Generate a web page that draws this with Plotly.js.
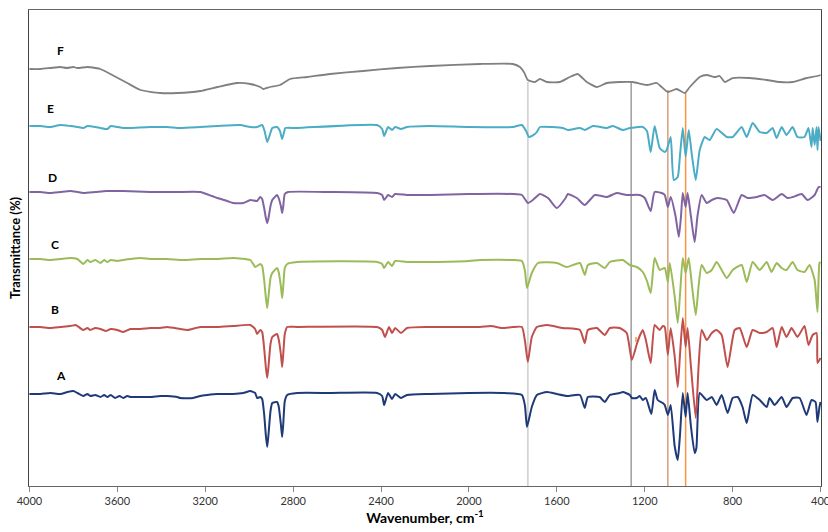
<!DOCTYPE html>
<html><head><meta charset="utf-8">
<script src="https://cdn.plot.ly/plotly-3.0.1.min.js"></script>
<style>html,body{margin:0;padding:0;background:#fff}#chart{width:828px;height:532px}</style>
</head><body><div id="chart"></div>
<script>
// FTIR spectra, offset transmittance (arbitrary stacked units), [wavenumber, value]
const specA = [[4000,92],[3950,92],[3905,93],[3859,92],[3827,94],[3800,95],[3782,93],[3755,90],[3736,92],[3723,90],[3700,91],[3677,89],[3660,91],[3645,89],[3630,91],[3610,88],[3590,90],[3573,88],[3555,90],[3541,89],[3495,89],[3450,89],[3405,90],[3373,90],[3327,89],[3314,88],[3255,88],[3223,90],[3191,91],[3145,92],[3073,92],[3027,93],[2995,95],[2973,93],[2964,88],[2950,89],[2941,87],[2932,72],[2924,50],[2918,39],[2912,52],[2903,75],[2895,83],[2873,84],[2866,80],[2856,62],[2850,49],[2845,62],[2838,85],[2827,91],[2782,93],[2632,93],[2418,93],[2395,90],[2386,81],[2368,93],[2350,87],[2336,92],[2309,88],[2282,91],[2177,92],[2000,93],[1850,93],[1759,91],[1745,80],[1736,59],[1714,79],[1691,91],[1645,94],[1600,92],[1555,90],[1495,91],[1473,78],[1459,89],[1405,89],[1382,84],[1359,91],[1314,93],[1300,94],[1268,91],[1259,88],[1236,88],[1223,90],[1209,86],[1195,88],[1170,72],[1155,96],[1141,86],[1118,83],[1109,81],[1095,71],[1082,81],[1064,40],[1050,26],[1040,50],[1027,93],[1014,69],[1005,93],[990,60],[973,33],[965,38],[950,93],[918,86],[895,89],[873,81],[850,91],[823,73],[800,88],[777,89],[755,79],[736,63],[709,91],[677,86],[645,79],[632,88],[609,81],[577,89],[555,79],[527,88],[495,88],[464,71],[441,86],[423,84],[414,64],[405,79],[400,84]];
const specB = [[4000,159],[3950,159],[3905,158],[3859,159],[3814,160],[3790,161],[3782,160],[3755,156],[3736,158],[3723,156],[3700,158],[3677,157],[3650,155],[3630,157],[3600,156],[3573,154],[3541,157],[3495,157],[3450,158],[3405,158],[3373,159],[3314,157],[3282,156],[3223,159],[3145,159],[3073,160],[2995,161],[2973,157],[2964,152],[2950,156],[2941,154],[2932,138],[2924,118],[2918,108],[2912,120],[2903,142],[2895,149],[2873,152],[2866,147],[2856,132],[2850,119],[2845,132],[2838,152],[2827,159],[2782,159],[2418,159],[2395,156],[2382,149],[2364,159],[2350,153],[2336,158],[2309,153],[2282,158],[2177,159],[1950,159],[1900,160],[1850,158],[1800,159],[1759,159],[1745,145],[1732,124],[1714,149],[1691,159],[1645,161],[1573,158],[1495,156],[1473,143],[1459,156],[1418,158],[1382,151],[1359,158],[1314,158],[1282,153],[1259,126],[1236,142],[1223,150],[1209,156],[1195,146],[1173,123],[1155,161],[1132,156],[1118,160],[1109,159],[1095,131],[1082,158],[1064,130],[1050,99],[1040,130],[1027,168],[1014,139],[1005,158],[990,120],[968,68],[955,120],[941,156],[918,146],[895,153],[873,156],[850,151],[823,119],[791,156],[768,158],[736,139],[709,156],[677,153],[645,154],[618,158],[600,139],[577,159],[555,149],[532,158],[505,149],[473,160],[455,141],[436,151],[418,153],[414,123],[405,126],[400,128]];
const specC = [[4000,227],[3950,227],[3905,226],[3859,227],[3814,228],[3782,227],[3755,222],[3736,226],[3723,224],[3700,226],[3677,223],[3660,226],[3645,224],[3630,226],[3600,225],[3573,226],[3541,227],[3495,228],[3450,227],[3373,227],[3300,226],[3223,227],[3145,227],[3073,228],[2995,226],[2982,222],[2973,219],[2950,222],[2941,220],[2932,206],[2924,188],[2918,178],[2912,190],[2903,208],[2895,213],[2873,218],[2866,214],[2856,200],[2850,188],[2845,200],[2838,218],[2827,222],[2782,224],[2418,224],[2395,222],[2386,218],[2368,224],[2350,220],[2336,225],[2282,224],[2177,224],[2000,225],[1950,226],[1800,226],[1759,225],[1745,215],[1736,198],[1714,213],[1686,223],[1600,223],[1555,219],[1495,223],[1473,211],[1459,221],[1418,223],[1382,218],[1359,224],[1300,226],[1268,221],[1236,219],[1209,214],[1190,205],[1173,193],[1155,228],[1132,216],[1109,218],[1095,204],[1086,223],[1064,190],[1050,163],[1040,190],[1027,228],[1014,213],[1000,228],[985,200],[968,171],[955,200],[941,221],[918,213],[895,216],[873,224],[827,208],[800,216],[759,221],[736,204],[709,224],[677,216],[645,224],[623,214],[600,223],[577,218],[555,216],[527,224],[505,216],[473,214],[450,221],[427,206],[414,174],[405,223],[400,224]];
const specD = [[4000,294],[3950,294],[3905,293],[3859,294],[3814,295],[3782,294],[3755,293],[3700,294],[3650,295],[3573,295],[3450,294],[3373,294],[3327,294],[3223,294],[3170,290],[3145,288],[3100,285],[3073,283],[3027,283],[2995,286],[2964,285],[2950,289],[2941,287],[2932,278],[2924,268],[2918,263],[2912,268],[2903,280],[2895,286],[2873,291],[2866,288],[2856,280],[2850,273],[2845,280],[2838,292],[2823,294],[2632,294],[2418,293],[2395,291],[2386,286],[2368,291],[2350,289],[2336,292],[2282,291],[2177,291],[2000,292],[1800,292],[1759,291],[1732,283],[1709,286],[1677,292],[1640,288],[1600,278],[1560,288],[1550,292],[1509,288],[1473,281],[1427,291],[1373,289],[1327,293],[1282,291],[1223,291],[1200,288],[1173,275],[1155,294],[1123,293],[1109,291],[1095,279],[1082,289],[1060,270],[1045,249],[1035,270],[1027,293],[1014,279],[1005,293],[990,270],[973,244],[960,270],[941,291],[918,283],[895,286],[868,288],[827,286],[795,273],[759,291],[732,288],[691,289],[655,291],[618,286],[577,292],[550,288],[527,289],[486,292],[459,286],[427,291],[409,299],[400,299]];
const specE = [[4000,360],[3950,360],[3905,359],[3859,361],[3814,360],[3782,359],[3755,358],[3736,360],[3700,359],[3677,358],[3645,357],[3630,360],[3600,359],[3573,358],[3541,358],[3450,359],[3373,359],[3314,358],[3223,359],[3145,360],[3041,361],[2995,359],[2964,359],[2941,361],[2930,355],[2918,344],[2905,352],[2895,358],[2873,359],[2860,355],[2850,347],[2840,355],[2836,358],[2782,358],[2418,361],[2395,357],[2386,350],[2368,359],[2350,356],[2336,359],[2309,357],[2282,359],[2177,360],[2000,359],[1800,359],[1759,361],[1740,355],[1727,349],[1700,352],[1691,354],[1677,359],[1620,359],[1573,358],[1550,356],[1495,358],[1473,356],[1436,360],[1373,358],[1345,360],[1300,356],[1268,358],[1209,359],[1190,355],[1173,334],[1155,360],[1132,338],[1109,334],[1100,336],[1082,349],[1068,306],[1050,309],[1040,330],[1027,358],[1014,329],[1000,356],[985,330],[968,306],[950,336],[927,349],[905,346],[873,357],[827,349],[800,349],[759,359],[736,349],[709,363],[677,354],[645,353],[618,358],[600,348],[577,359],[555,351],[527,359],[505,349],[473,349],[455,358],[441,339],[436,358],[427,341],[418,359],[414,336],[409,359],[400,345]];
const specF = [[4000,417],[3950,417],[3905,418],[3859,419],[3830,418],[3800,419],[3782,418],[3736,419],[3700,418],[3677,417],[3632,412],[3555,403],[3495,396],[3405,393],[3327,393],[3223,395],[3145,399],[3055,403],[2995,402],[2950,399],[2936,397],[2905,399],[2859,401],[2814,407],[2736,409],[2632,412],[2482,415],[2327,418],[2177,420],[1950,422],[1800,422],[1768,419],[1750,414],[1732,406],[1700,404],[1677,407],[1645,404],[1586,404],[1541,409],[1505,412],[1464,404],[1418,399],[1373,403],[1314,404],[1255,404],[1191,401],[1145,403],[1123,399],[1095,394],[1055,397],[1018,393],[995,399],[950,409],[918,411],[882,409],[859,410],[836,404],[800,408],[723,408],[645,406],[586,404],[527,404],[464,408],[414,410],[400,411]];

const sampleNames = ['A','B','C','D','E','F'];
const sampleColors = ['#1f3a78','#c0504d','#9bbb59','#8064a2','#4bacc6','#808080'];
const xTicks = [4000,3600,3200,2800,2400,2000,1600,1200,800,400];
const refLineWn = [1732, 1262, 1095, 1014];
const refLineColors = ['#d4d4d4','#7a7a7a','#dba383','#f79646'];

const specs = [specA, specB, specC, specD, specE, specF];
const traces = specs.map((s, i) => ({
  x: s.map(p => p[0]), y: s.map(p => p[1]),
  type: 'scatter', mode: 'lines', name: sampleNames[i],
  line: {color: sampleColors[i], width: i === 5 ? 1.8 : 2, shape: 'spline', smoothing: 0.5},
  hoverinfo: 'skip'
}));

const refTops = [404, 403, 396, 393];
const refWidths = [1.8, 1.1, 1.6, 1.5];
const shapes = refLineWn.map((w, i) => ({
  type: 'line', xref: 'x', yref: 'y', x0: w, x1: w, y0: 0, y1: refTops[i],
  line: {color: refLineColors[i], width: refWidths[i]}, layer: 'below'
}));
// small orange tick near trace B
shapes.push({type: 'line', xref: 'x', yref: 'y', x0: 1240, x1: 1240, y0: 144, y1: 149,
  line: {color: '#f79646', width: 1.5}});

const labelPos = [[3855,111],[3882,177],[3882,242],[3895,309],[3905,378],[3860,436]];
const annotations = sampleNames.map((n, i) => ({
  x: labelPos[i][0], y: labelPos[i][1], xref: 'x', yref: 'y', text: n, showarrow: false,
  font: {family: 'Lato, Arial, sans-serif', size: 12, color: '#000', weight: 'bold'}
}));

const layout = {
  width: 828, height: 532,
  margin: {l: 29, r: 7, t: 10, b: 46},
  paper_bgcolor: '#fff', plot_bgcolor: '#fff',
  showlegend: false,
  font: {family: 'Lato, Arial, sans-serif', color: '#333'},
  xaxis: {
    range: [4002, 398], tickvals: xTicks, ticktext: xTicks.map(String),
    ticks: 'outside', ticklen: 5, tickcolor: '#888', showgrid: false, zeroline: false,
    showline: true, linecolor: '#666', linewidth: 1, mirror: true,
    ticklabeloverflow: 'allow',
    tickfont: {size: 11, color: '#333'},
    title: {text: 'Wavenumber, cm<sup>-1</sup>', font: {size: 14, color: '#000', weight: 'bold'}, standoff: 6}
  },
  yaxis: {
    range: [0, 476], showticklabels: false, ticks: '', showgrid: false, zeroline: false,
    showline: true, linecolor: '#444', linewidth: 1, mirror: true,
    title: {text: 'Transmittance (%)', font: {size: 13, color: '#000', weight: 'bold'}, standoff: 4}
  },
  shapes: shapes,
  annotations: annotations
};

Plotly.newPlot('chart', traces, layout, {displayModeBar: false, staticPlot: true});
</script></body></html>
